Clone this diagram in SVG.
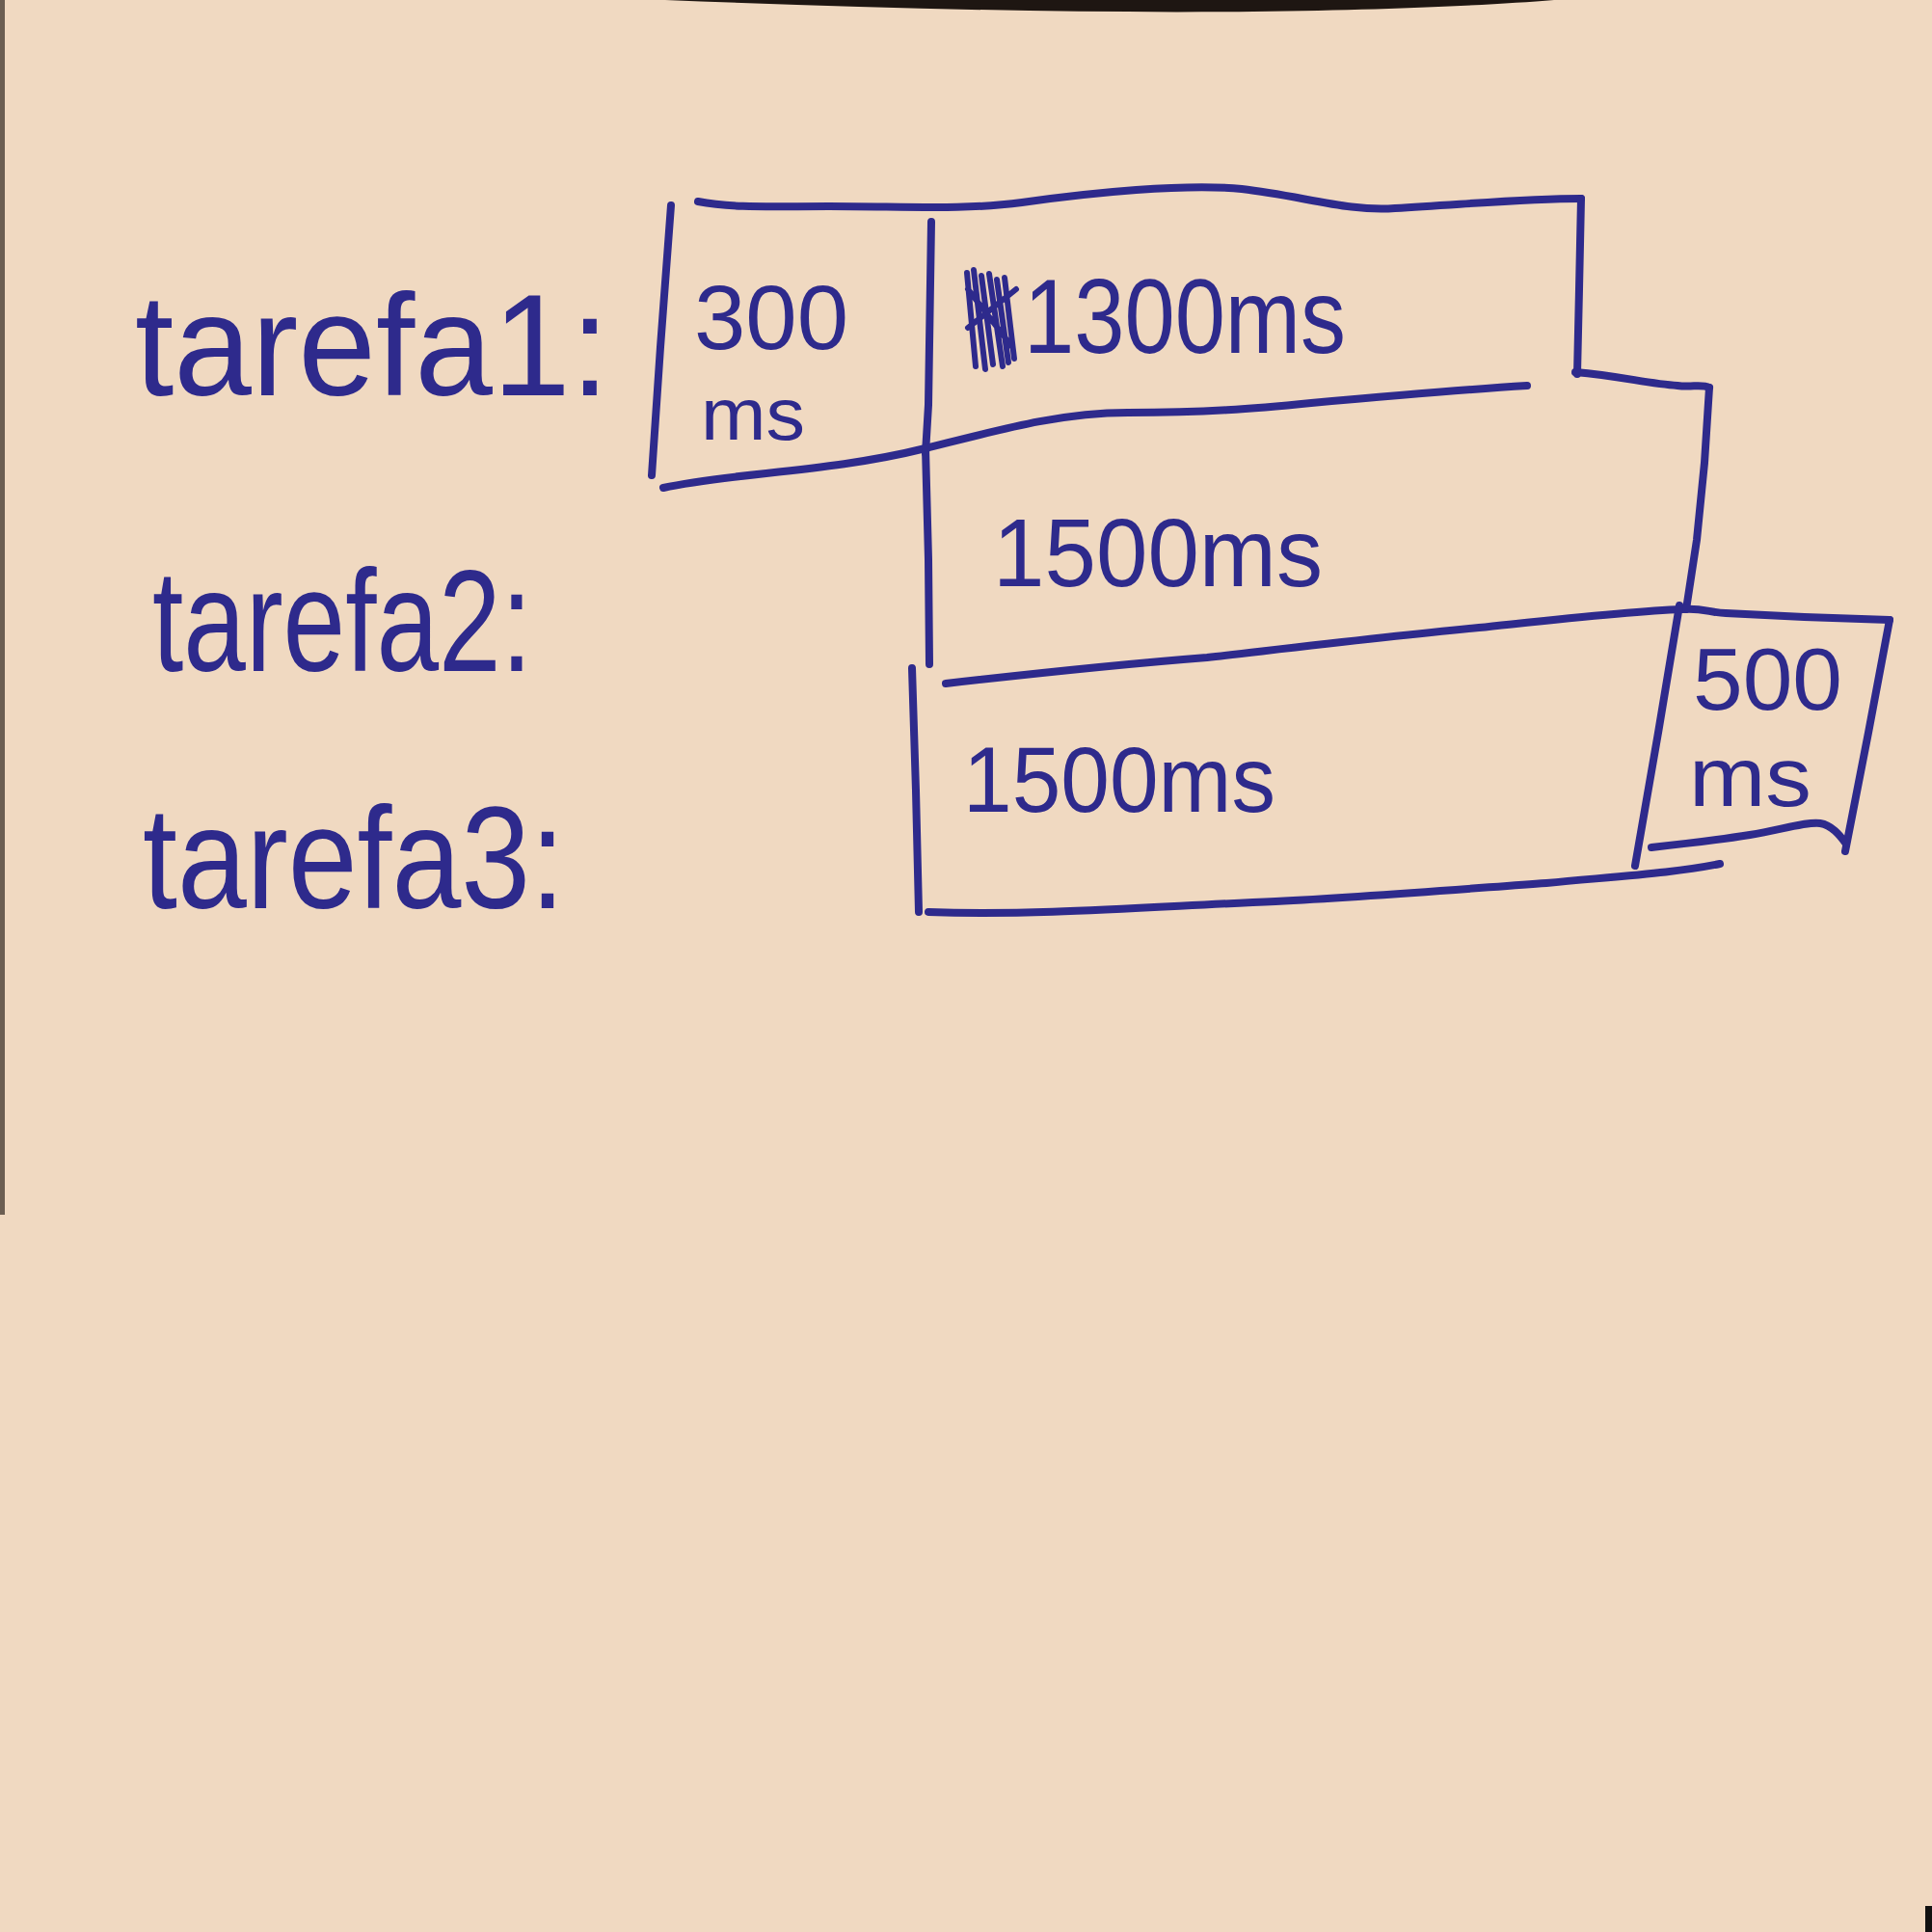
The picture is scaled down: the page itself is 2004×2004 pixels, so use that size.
<svg xmlns="http://www.w3.org/2000/svg" width="2004" height="2004" viewBox="0 0 2004 2004">
<style>
.ink{fill:none;stroke:#2e2a8c;stroke-width:8;stroke-linecap:round;stroke-linejoin:round}
.lbl{font-family:"Liberation Sans","DejaVu Sans",sans-serif;fill:#2e2a8c;font-size:150px}
.t{font-family:"Liberation Sans","DejaVu Sans",sans-serif;fill:#2e2a8c}
</style>
<rect x="0" y="0" width="2004" height="2004" fill="#f0d9c1"/>
<path d="M690,0 C900,8 1100,14 1300,12 C1450,10 1550,5 1612,0 Z" fill="#1e1612"/>
<rect x="0" y="0" width="5" height="1260" fill="#4a3e36" opacity="0.8"/>
<rect x="1997" y="1977" width="7" height="27" fill="#111"/>

<g id="label-tarefa1"><text class="lbl" x="140" y="410" textLength="492" lengthAdjust="spacingAndGlyphs">tarefa1:</text></g>
<g id="label-tarefa2"><text class="lbl" x="158" y="696" textLength="394" lengthAdjust="spacingAndGlyphs">tarefa2:</text></g>
<g id="label-tarefa3"><text class="lbl" x="148" y="942" textLength="438" lengthAdjust="spacingAndGlyphs">tarefa3:</text></g>

<g id="connectors"></g>

<g id="box-tarefa1">
<path class="ink" d="M724,209 C760,216 800,214 860,214 C940,214 1000,218 1060,210 C1130,200 1230,190 1288,196 C1350,203 1400,220 1447,216 C1520,212 1580,206 1640,206"/>
<path class="ink" d="M696,213 L685,360 L676,493"/>
<path class="ink" d="M966,230 L963,420 L960,470"/>
<path class="ink" d="M1640,206 L1638,300 L1636,388"/>
<path class="ink" d="M688,506 C760,490 860,490 960,465 C1040,445 1100,428 1170,428 C1250,428 1300,424 1360,418 C1450,410 1520,404 1584,400"/>
<path d="M1003,283 L1012,380 M1010,280 L1022,383 M1018,286 L1030,378 M1026,284 L1040,380 M1034,290 L1046,376 M1042,288 L1052,372 M1004,300 L1050,360 M1004,340 L1054,300" stroke="#2e2a8c" stroke-width="6" fill="none" stroke-linecap="round"/>
</g>
<g id="node-300ms">
<text class="t" x="720" y="362" font-size="94" textLength="160" lengthAdjust="spacingAndGlyphs">300</text>
<text class="t" x="727" y="456" font-size="76" textLength="108" lengthAdjust="spacingAndGlyphs">ms</text>
</g>
<g id="node-1300ms"><text class="t" x="1062" y="366" font-size="110" textLength="334" lengthAdjust="spacingAndGlyphs">1300ms</text></g>

<g id="box-tarefa2">
<path class="ink" d="M960,465 L963,580 L964,689"/>
<path class="ink" d="M1634,386 C1680,390 1710,398 1740,400 C1755,402 1765,398 1773,402"/>
<path class="ink" d="M1773,402 L1768,480 L1760,560 L1749,632"/>
</g>
<g id="node-1500ms-a"><text class="t" x="1030" y="608" font-size="100" textLength="342" lengthAdjust="spacingAndGlyphs">1500ms</text></g>

<g id="box-tarefa3">
<path class="ink" d="M981,709 C1060,700 1150,690 1252,682 C1340,672 1440,660 1534,651 C1620,642 1690,634 1745,632 C1765,630 1775,636 1790,636 C1860,640 1920,642 1960,643"/>
<path class="ink" d="M946,693 L950,820 L953,946"/>
<path class="ink" d="M963,946 C1080,950 1200,940 1323,935 C1420,930 1520,922 1604,916 C1690,908 1740,905 1784,896"/>
<path class="ink" d="M1742,628 L1720,760 L1696,898"/>
</g>
<g id="node-1500ms-b"><text class="t" x="999" y="842" font-size="96" textLength="324" lengthAdjust="spacingAndGlyphs">1500ms</text></g>

<g id="box-500ms">
<path class="ink" d="M1960,643 L1938,760 L1914,883"/>
<path class="ink" d="M1713,879 C1750,875 1790,870 1815,866 C1850,860 1875,852 1888,854 C1900,856 1908,866 1914,874"/>
</g>
<g id="node-500ms">
<text class="t" x="1756" y="736" font-size="90" textLength="155" lengthAdjust="spacingAndGlyphs">500</text>
<text class="t" x="1752" y="836" font-size="88" textLength="127" lengthAdjust="spacingAndGlyphs">ms</text>
</g>
</svg>
